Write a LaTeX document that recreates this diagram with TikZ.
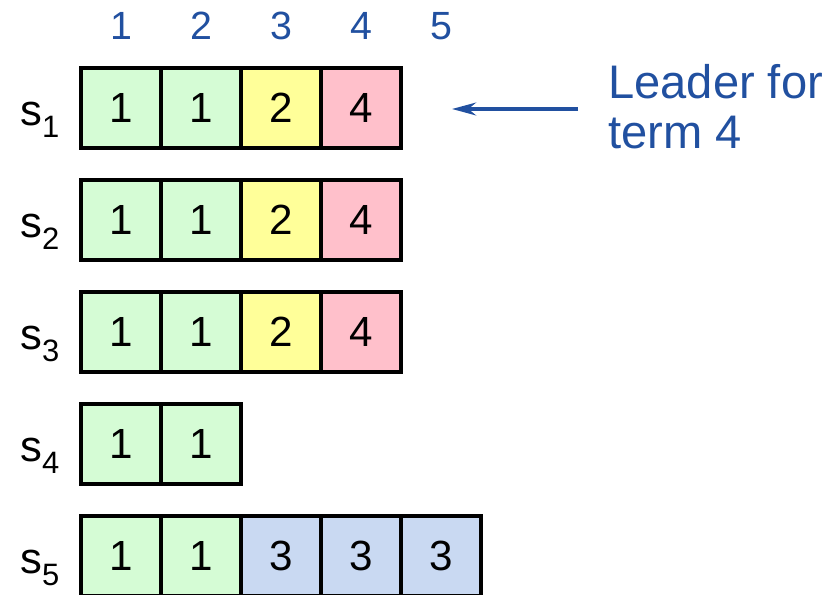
\documentclass[tikz,border=0pt]{standalone}
\usepackage{fontspec}
\setmainfont{Liberation Sans}
\usetikzlibrary{arrows.meta}

\definecolor{termone}{RGB}{213,252,213}
\definecolor{termtwo}{RGB}{255,255,153}
\definecolor{termthree}{RGB}{201,217,242}
\definecolor{termfour}{RGB}{255,192,203}
\definecolor{idxblue}{RGB}{33,80,160}

\newcommand{\srvname}[1]{s\raisebox{-8.5pt}{\fontsize{22}{26}\selectfont #1}}

\tikzset{
  entry/.style={draw=black,line width=2.6pt,minimum size=2cm,inner sep=0pt,font=\fontsize{30}{36}\selectfont},
  idx/.style={text=idxblue,font=\fontsize{28}{34}\selectfont},
  srv/.style={anchor=base west,inner sep=0pt,font=\fontsize{31}{37}\selectfont},
}

\begin{document}
\begin{tikzpicture}
\useasboundingbox (0,0) rectangle (20.95,-14.875);

% log indices
\node[idx] (h1) at (3.025,-0.65) {1};
\node[idx] (h2) at (5.025,-0.65) {2};
\node[idx] (h3) at (7.025,-0.65) {3};
\node[idx] (h4) at (9.025,-0.65) {4};
\node[idx] (h5) at (11.025,-0.65) {5};

% servers
\node[srv] (s1) at (0.5,-3.13) {\srvname{1}};
\node[srv] (s2) at (0.5,-5.93) {\srvname{2}};
\node[srv] (s3) at (0.5,-8.73) {\srvname{3}};
\node[srv] (s4) at (0.5,-11.53) {\srvname{4}};
\node[srv] (s5) at (0.5,-14.33) {\srvname{5}};

% logs
\node[entry,fill=termone] (s1e1) at (3.025,-2.7) {1};
\node[entry,fill=termone] (s1e2) at (5.025,-2.7) {1};
\node[entry,fill=termtwo] (s1e3) at (7.025,-2.7) {2};
\node[entry,fill=termfour] (s1e4) at (9.025,-2.7) {4};

\node[entry,fill=termone] (s2e1) at (3.025,-5.5) {1};
\node[entry,fill=termone] (s2e2) at (5.025,-5.5) {1};
\node[entry,fill=termtwo] (s2e3) at (7.025,-5.5) {2};
\node[entry,fill=termfour] (s2e4) at (9.025,-5.5) {4};

\node[entry,fill=termone] (s3e1) at (3.025,-8.3) {1};
\node[entry,fill=termone] (s3e2) at (5.025,-8.3) {1};
\node[entry,fill=termtwo] (s3e3) at (7.025,-8.3) {2};
\node[entry,fill=termfour] (s3e4) at (9.025,-8.3) {4};

\node[entry,fill=termone] (s4e1) at (3.025,-11.1) {1};
\node[entry,fill=termone] (s4e2) at (5.025,-11.1) {1};

\node[entry,fill=termone] (s5e1) at (3.025,-13.9) {1};
\node[entry,fill=termone] (s5e2) at (5.025,-13.9) {1};
\node[entry,fill=termthree] (s5e3) at (7.025,-13.9) {3};
\node[entry,fill=termthree] (s5e4) at (9.025,-13.9) {3};
\node[entry,fill=termthree] (s5e5) at (11.025,-13.9) {3};

% leader
\node[anchor=north west,inner sep=0pt,align=left,text=idxblue,font=\fontsize{33.5}{35.5}\selectfont] (lead) at (15.2,-1.6) {Leader for\\term 4};
\coordinate (tip) at (11.3,-2.725);
\draw[idxblue,line width=2.6pt,-{Stealth[length=0.6cm,width=0.32cm]}] ([xshift=-0.75cm]lead.west |- tip) -- (tip);
\end{tikzpicture}
\end{document}
